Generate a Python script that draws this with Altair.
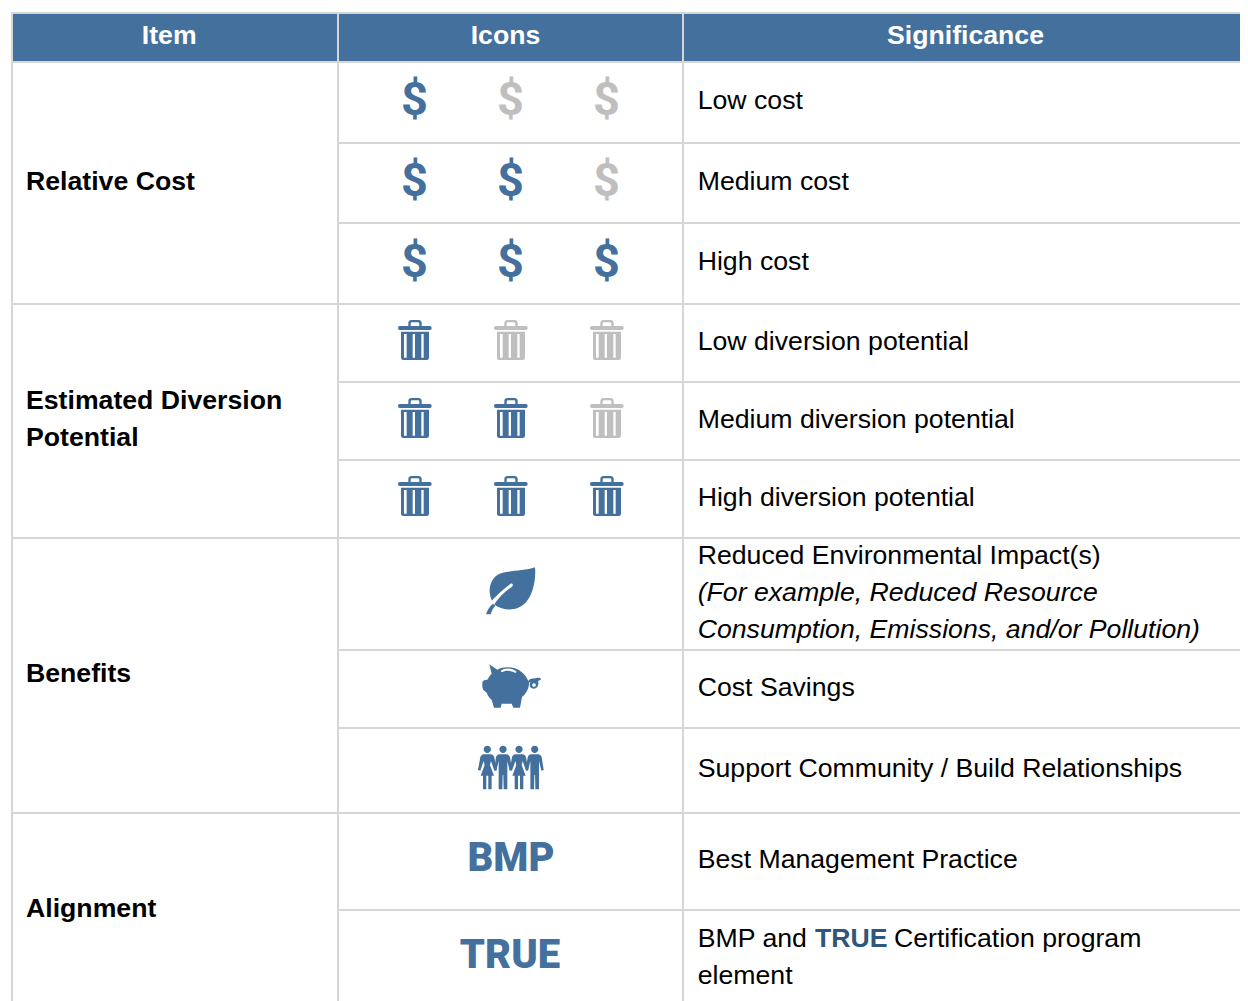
import altair as alt
import pandas as pd

# ---------- content ----------
headers = ["Item", "Icons", "Significance"]
items = ["Relative Cost", "Estimated Diversion", "Potential", "Benefits", "Alignment"]
significance = [
    "Low cost", "Medium cost", "High cost",
    "Low diversion potential", "Medium diversion potential", "High diversion potential",
    "Reduced Environmental Impact(s)",
    "Cost Savings", "Support Community / Build Relationships",
    "Best Management Practice", "BMP and", "Certification program", "element",
]
significance_italic = ["(For example, Reduced Resource", "Consumption, Emissions, and/or Pollution)"]
highlight = ["TRUE"]
logos = ["BMP", "TRUE"]
levels = [1, 2, 3]

# ---------- layout ----------
BLUE, GRAY, LINE, DARK = "#44709d", "#bfbfbf", "#d6d6d6", "#305679"
W, H = 1232, 993
FONT = "Liberation Sans"
col_lines = [12, 338, 683]
top, head_bottom = 13, 62
group_lines = [304, 538, 813]
row_lines = [143, 223, 382, 460, 650, 728, 910]
header_x = [169.2, 505.5, 965.5]
icon_cols = [415, 511, 607]
sig_y = [109, 190, 270, 350, 428, 506, 564, 696, 777, 868, 947, 947, 984]
sig_x = [697.7] * 11 + [894, 697.7]
sig_i_y = [601, 638]
item_y = [190, 409, 446, 682, 917]
dollar_y = [115, 196, 277]
dollar_dx = -0.5
trash_y = [310, 388, 466]

xs = alt.Scale(domain=[8, 8 + W], nice=False, zero=False)
ys = alt.Scale(domain=[8 + H, 8], nice=False, zero=False)
X = lambda f: alt.X(f, type="quantitative", scale=xs, axis=None)
Y = lambda f: alt.Y(f, type="quantitative", scale=ys, axis=None)

# ---------- icon outlines (units of 1/3 px) ----------
UNIT = 4 / 9

def circle(cx, cy, r):
    k = 0.5523 * r
    return (f"M{cx-r},{cy}C{cx-r},{cy-k} {cx-k},{cy-r} {cx},{cy-r}"
            f"C{cx+k},{cy-r} {cx+r},{cy-k} {cx+r},{cy}"
            f"C{cx+r},{cy+k} {cx+k},{cy+r} {cx},{cy+r}"
            f"C{cx-k},{cy+r} {cx-r},{cy+k} {cx-r},{cy}Z")

TRASH = ("M59,48L150,48Q155,48 155,54Q155,60 150,60L59,60Q54,60 54,54Q54,48 59,48Z"
         "M85,48L85,40Q85,30 95,30L115,30Q125,30 125,40L125,48L118,48L118,41Q118,37 114,37L96,37Q92,37 92,41L92,48Z"
         "M63,65L147,65L147,143Q147,150 140,150L70,150Q63,150 63,143Z"
         "M72,72L72,143L80,143L80,72Z"
         "M98,72L98,143L105,143L105,72Z"
         "M124,72L124,143L131,143L131,72Z")
LEAF = ("M225,37C229,80 216,125 195,145C170,170 130,168 105,150"
        "C95,140 88,120 89,105C90,85 98,70 112,60C135,45 190,50 225,37Z")
VEIN = ("M152,86C158,84 161,91 156,95C132,112 114,130 100,152L86,150C102,126 128,104 152,86Z")
STEM = ("M99,146L106,152C99,160 95,168 92,178L78,178C82,165 90,153 99,146Z")
PIG = ("M88,28L112,44C130,34 160,34 178,46C190,54 200,66 205,78L210,72C222,70 232,68 240,68"
       "L243,74L234,78C238,88 232,101 221,101C210,101 206,90 211,82L207,82"
       "C208,100 198,116 186,126L180,158L160,158L155,146L125,146L122,158L102,158L95,135"
       "C88,128 82,120 80,113L70,105L67,97L67,82L72,76L82,74C86,68 90,60 95,56Z")
PIG_SLOT = "M122,48C135,38 155,38 170,50L166,54C152,46 136,45 125,52Z" + circle(222, 90, 5.5)
WOMAN = ("M-12,298L12,298C17,299 20,303 21,307L28,345L21,347L11,318L8,330L20,362L13,362L13,403"
         "L3,403L3,362L-3,362L-3,403L-13,403L-13,362L-20,362L-8,330L-11,318L-21,347L-28,345L-21,307"
         "C-20,303 -17,299 -12,298Z" + circle(0, 283, 11))
MAN = ("M-12,298L12,298C17,299 20,303 21,307L27,345L20,347L13,318L13,403L2,403L1,360L-1,360"
       "L-2,403L-13,403L-13,318L-20,347L-27,345L-21,307C-20,303 -17,299 -12,298Z" + circle(0, 283, 11))

icon_rows = []
dollars = []
for r, lvl in enumerate(levels):
    for c, cx in enumerate(icon_cols):
        on = BLUE if c < lvl else GRAY
        icon_rows.append(dict(x=cx - 35, y=trash_y[r], path=TRASH, fill=on))
        dollars.append(dict(x=cx + dollar_dx, y=dollar_y[r], t="$", fill=on))
icon_rows += [
    dict(x=460, y=555, path=LEAF, fill=BLUE),
    dict(x=460, y=555, path=VEIN, fill="#ffffff"),
    dict(x=460, y=555, path=STEM, fill=BLUE),
    dict(x=460, y=655, path=PIG, fill=BLUE),
    dict(x=460, y=655, path=PIG_SLOT, fill="#ffffff"),
    dict(x=487.3, y=655, path=WOMAN, fill=BLUE),
    dict(x=503, y=655, path=MAN, fill=BLUE),
    dict(x=519, y=655, path=WOMAN, fill=BLUE),
    dict(x=534.7, y=655, path=MAN, fill=BLUE),
]
icons = alt.Chart(pd.DataFrame(icon_rows)).mark_point(filled=True, opacity=1, strokeWidth=0, size=UNIT).encode(
    x=X("x"), y=Y("y"),
    shape=alt.Shape("path:N", scale=None),
    fill=alt.Fill("fill:N", scale=None),
)
dollar_marks = alt.Chart(pd.DataFrame(dollars)).mark_text(
    align="center", baseline="alphabetic", fontSize=47, font="Roboto", fontWeight="bold").encode(
    x=X("x"), y=Y("y"), text="t:N", color=alt.Color("fill:N", scale=None))

# ---------- table ----------
header_bg = alt.Chart(pd.DataFrame([dict(x=col_lines[0], x2=8 + W, y=top, y2=head_bottom)])).mark_rect(
    fill=BLUE, strokeWidth=0).encode(x=X("x"), x2="x2:Q", y=Y("y"), y2="y2:Q")

rules = []
bottom = 8 + H
for cx in col_lines:
    rules.append(dict(x=cx, x2=cx, y=top, y2=bottom))
for yy in [top, head_bottom] + group_lines:
    rules.append(dict(x=col_lines[0] - 1, x2=8 + W, y=yy, y2=yy))
for yy in row_lines:
    rules.append(dict(x=col_lines[1], x2=8 + W, y=yy, y2=yy))
grid = alt.Chart(pd.DataFrame(rules)).mark_rule(color=LINE, strokeWidth=2).encode(
    x=X("x"), x2="x2:Q", y=Y("y"), y2="y2:Q")

def text_layer(xv, yv, txt, size=26.67, font=FONT, color="#000000", align="left", weight="normal", style="normal"):
    df = pd.DataFrame(dict(x=xv, y=yv, t=txt))
    return alt.Chart(df).mark_text(align=align, baseline="alphabetic", fontSize=size, font=font,
                                   color=color, fontWeight=weight, fontStyle=style).encode(
        x=X("x"), y=Y("y"), text="t:N")

layers = [
    header_bg, grid, icons, dollar_marks,
    text_layer(header_x, [44] * 3, headers, color="#ffffff", align="center", weight="bold"),
    text_layer([26] * len(items), item_y, items, weight="bold"),
    text_layer(sig_x, sig_y, significance),
    text_layer([697.7] * 2, sig_i_y, significance_italic, style="italic"),
    text_layer([815], [947], highlight, color=DARK, weight="bold"),
    text_layer([511, 510], [871, 968], logos, size=40, font="Roboto",
               align="center", weight=900, color=BLUE),
]
chart = alt.layer(*layers).properties(
    width=W, height=H, padding=0, autosize=alt.AutoSizeParams(type="none"),
).configure_view(stroke=None)
chart.save("out.html", embed_options={"renderer": "svg", "actions": False})
